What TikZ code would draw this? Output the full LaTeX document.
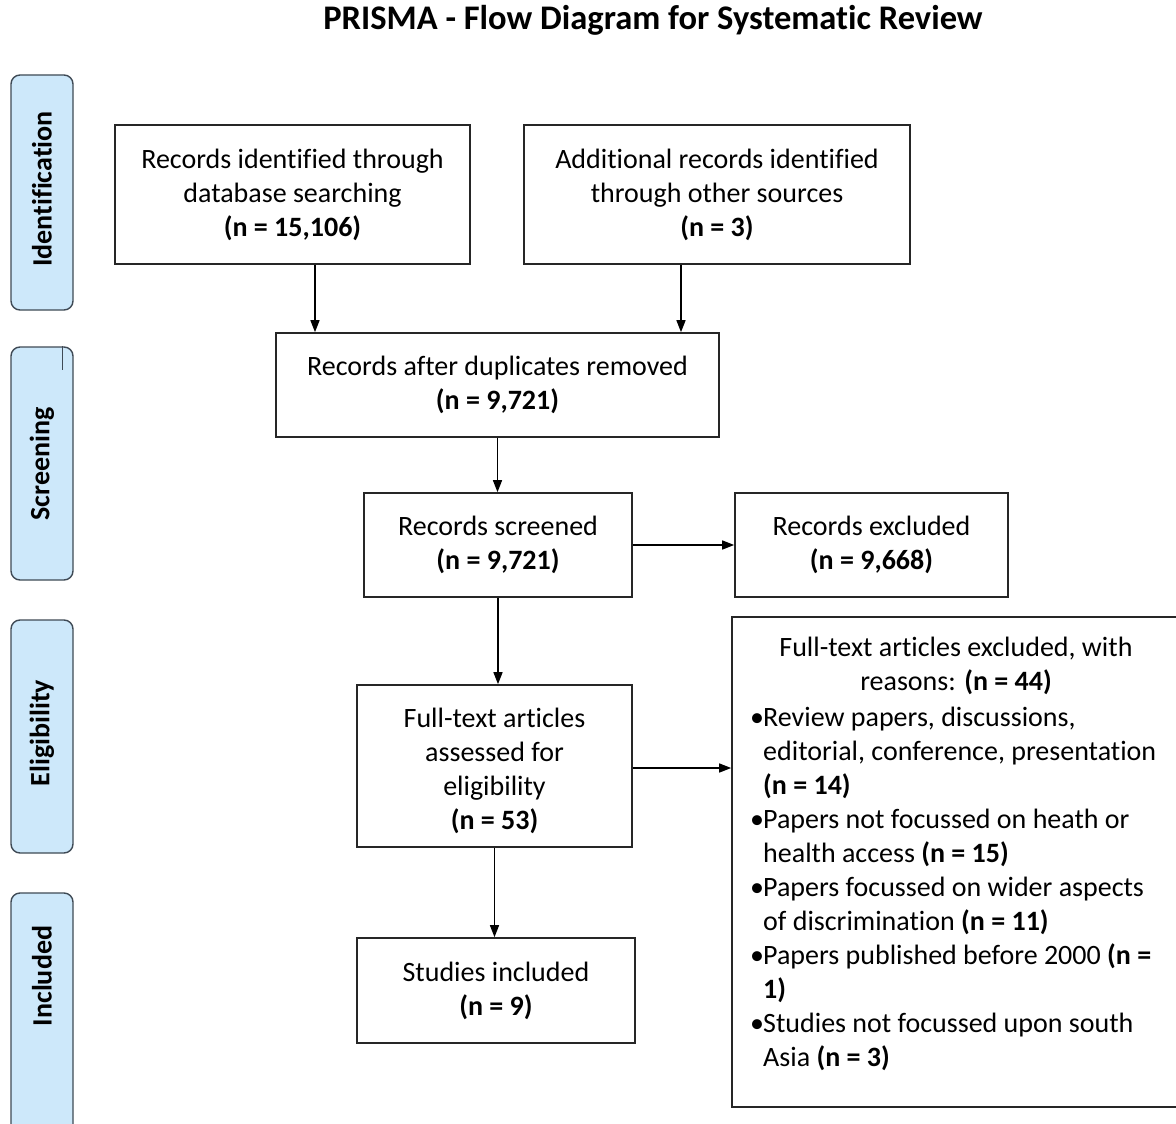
\documentclass[tikz,border=0pt]{standalone}
\usepackage{fontspec}
\setmainfont{Carlito}[Ligatures={NoCommon}]
\usetikzlibrary{arrows.meta}
\definecolor{lblue}{HTML}{CDE8FA}
\definecolor{lborder}{HTML}{3F4A55}
\newcommand{\bul}{\makebox[13pt][l]{•}}
\newcommand{\cont}{\hspace*{13pt}}
\begin{document}
\begin{tikzpicture}[x=1pt,y=-1pt,
  box/.style={draw=black!85, line width=1.6pt, inner sep=0pt, align=center, font=\fontsize{28}{34}\selectfont},
  phase/.style={draw=lborder, fill=lblue, line width=1.4pt, rounded corners=9pt, minimum width=62pt, inner sep=0pt},
  ptext/.style={rotate=90, font=\bfseries\fontsize{28}{32}\selectfont, inner sep=0pt},
  arr/.style={-{Triangle[length=12pt,width=9pt]}, line width=1.4pt},
  txt/.style={font=\fontsize{28}{34}\selectfont, inner sep=0pt}
]
\useasboundingbox (0,0) rectangle (1176,1124);
\clip (0,0) rectangle (1176,1124);
\fill[white] (0,0) rectangle (1176,1124);

\node[font=\bfseries\fontsize{34.5}{40}\selectfont] (title) at (653,20) {PRISMA - Flow Diagram for Systematic Review};

% phase labels
\node[phase, minimum height=235pt] (pid) at (42,192.5) {};
\node[ptext] (pidt) at (42,189) {Identification};
\node[phase, minimum height=233pt] (psc) at (42,463.5) {};
\node[ptext] (psct) at (42,464) {Screening};
\draw[draw=lborder, line width=1.4pt] ([xshift=-11pt]psc.north east) coordinate (m1) -- ([xshift=-11pt,yshift=-24pt]psc.north east) coordinate (m2);
\node[phase, minimum height=233pt] (pel) at (42,736.5) {};
\node[ptext] (pelt) at (42,733) {Eligibility};
\node[phase, minimum height=267pt] (pin) at (42,1026.5) {};
\node[ptext] (pint) at (42,976) {Included};

% boxes
\node[box, minimum width=355pt, minimum height=139pt] (A) at (292.5,194.5)
  {Records identified through\\ database searching\\ \textbf{(n = 15,106)}};
\node[box, minimum width=386pt, minimum height=139pt] (B) at (717,194.5)
  {Additional records identified\\ through other sources\\ \textbf{(n = 3)}};
\node[box, minimum width=443pt, minimum height=104pt] (C) at (497.5,385)
  {Records after duplicates removed\\ \textbf{(n = 9,721)}};
\node[box, minimum width=268pt, minimum height=104pt] (D) at (498,545)
  {Records screened\\ \textbf{(n = 9,721)}};
\node[box, minimum width=273pt, minimum height=104pt] (E) at (871.5,545)
  {Records excluded\\ \textbf{(n = 9,668)}};
\node[box, minimum width=275pt, minimum height=162pt] (F) at (494.5,766)
  {\rule{0pt}{30pt}Full-text articles\\ assessed for\\ eligibility\\ \textbf{(n = 53)}};
\node[box, minimum width=278pt, minimum height=105pt] (H) at (496,990.5)
  {Studies included\\ \textbf{(n = 9)}};
\node[box, minimum width=458pt, minimum height=490pt] (G) at (961,862) {};
\node[txt, align=center] (Gt) at (956,665.5)
  {Full-text articles excluded, with\\ reasons: \textbf{(n = 44)}};
\node[txt, align=left, anchor=north west] (Gl) at (750,707)
  {\bul Review papers, discussions,\\
   \cont editorial, conference, presentation\\
   \cont\textbf{(n = 14)}\\
   \bul Papers not focussed on heath or\\
   \cont health access \textbf{(n = 15)}\\
   \bul Papers focussed on wider aspects\\
   \cont of discrimination \textbf{(n = 11)}\\
   \bul Papers published before 2000 \textbf{(n =}\\
   \cont\textbf{1)}\\
   \bul Studies not focussed upon south\\
   \cont Asia \textbf{(n = 3)}};

% connectors
\draw[arr] ([xshift=22.5pt]A.south) -- ([xshift=22.5pt]A.south |- C.north);
\draw[arr] ([xshift=-36pt]B.south) -- ([xshift=-36pt]B.south |- C.north);
\draw[arr] (C.south) -- (C.south |- D.north);
\draw[arr] (D.east) -- (E.west);
\draw[arr] (D.south) -- (D.south |- F.north);
\draw[arr] ([yshift=-2pt]F.east) -- ([yshift=-2pt]F.east -| G.west);
\draw[arr] (F.south) -- (F.south |- H.north);
\end{tikzpicture}
\end{document}
